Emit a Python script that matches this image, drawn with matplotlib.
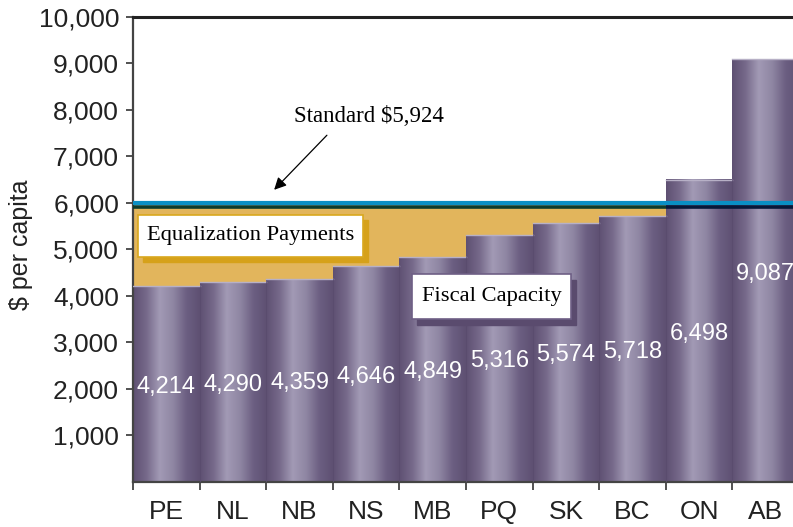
import numpy as np
import matplotlib.pyplot as plt
from matplotlib.colors import LinearSegmentedColormap
from matplotlib.patches import Rectangle

provinces = ['PE', 'NL', 'NB', 'NS', 'MB', 'PQ', 'SK', 'BC', 'ON', 'AB']
capacity = [4214, 4290, 4359, 4646, 4849, 5316, 5574, 5718, 6498, 9087]
standard = 5924
yticks = np.arange(1000, 10001, 1000)

sans = ['Liberation Sans Narrow', 'Liberation Sans', 'DejaVu Sans']
serif = ['Liberation Serif', 'DejaVu Serif']

fig = plt.figure(figsize=(7.93, 5.27), dpi=100)
ax = fig.add_axes([0.1677, 0.0854, 0.840, 0.8824])

x = np.arange(len(provinces))
vals = np.array(capacity)

# cylinder-like bars
bar_cmap = LinearSegmentedColormap.from_list(
    'cyl', ['#5e5072', '#76698a', '#a29ab5', '#8f86a3', '#6c5f82', '#5e5072'])
grad = np.linspace(0, 1, 256).reshape(1, -1)
for xi, v in zip(x, vals):
    ax.imshow(grad, cmap=bar_cmap, extent=(xi - 0.5, xi + 0.5, 0, v),
              aspect='auto', origin='lower', zorder=2)
    ax.plot([xi - 0.5, xi + 0.5], [v, v], color='#b7b0c6', lw=1, zorder=3)
    ax.plot([xi + 0.5, xi + 0.5], [0, v], color='#5a4c6e', lw=0.6, zorder=3)

# equalization gap up to the standard
gap = np.clip(standard - vals, 0, None)
ax.bar(x, gap, bottom=vals, width=1.0, color='#e2b55c', edgecolor='none', zorder=2)

# standard lines
n_below = int((vals < standard).sum())
ax.axhline(standard + 68, color='#0a8fc4', lw=3.0, zorder=5)
ax.hlines(standard - 18, -0.5, n_below - 0.5, color='#0c3b2c', lw=2.6, zorder=5)
ax.hlines(standard - 18, n_below - 0.5, len(x) - 0.5, color='#06183a', lw=2.6, zorder=5)

# value labels
for xi, v in zip(x, vals):
    ax.text(xi, v / 2 - 60, f'{v:,}', ha='center', va='center', color='white',
            fontsize=17, family=sans, zorder=6)

# annotation boxes
ax.add_patch(Rectangle((-0.35, 4730), 3.375, 900, color='#d6a11a', zorder=6))
ax.add_patch(Rectangle((-0.425, 4840), 3.375, 900, facecolor='white',
                       edgecolor='#d9a81e', lw=1.2, zorder=7))
ax.text(-0.425 + 3.375 / 2, 4840 + 450, 'Equalization Payments', ha='center', va='center',
        fontsize=16.2, family=serif, zorder=8)

ax.add_patch(Rectangle((3.765, 3370), 2.39, 970, color='#5a4b6e', zorder=6))
ax.add_patch(Rectangle((3.69, 3500), 2.39, 970, facecolor='white',
                       edgecolor='#6e5f85', lw=1.2, zorder=7))
ax.text(3.69 + 2.39 / 2, 3500 + 485, 'Fiscal Capacity', ha='center', va='center',
        fontsize=16.2, family=serif, zorder=8)

ax.annotate('', xy=(1.59, 6240), xytext=(2.44, 7500),
            arrowprops=dict(arrowstyle='-|>', color='black', lw=0.9, mutation_scale=18),
            zorder=8)
ax.text(3.04, 7850, f'Standard ${standard:,}', ha='center', va='center',
        fontsize=16.5, family=serif, zorder=8)

# axes styling
ax.set_xlim(-0.5, len(x) - 0.5)
ax.set_ylim(0, 10000)
ax.set_yticks(yticks)
ax.set_yticklabels([f'{t:,}' for t in yticks], family=sans[1:], fontsize=19, color='#222222')
ax.set_xticks(x)
ax.set_xticklabels(provinces, family=sans, fontsize=19, color='#222222')
ax.set_xticks(np.arange(-0.5, len(x), 1.0), minor=True)
ax.tick_params(axis='x', which='major', length=0, pad=13)
ax.tick_params(axis='x', which='minor', length=6, width=1.2, color='#333333')
ax.tick_params(axis='y', length=5, width=1.2, color='#333333', pad=5)
ax.set_ylabel('$ per capita', family=sans[1:], fontsize=18, color='#222222')
ax.yaxis.set_label_coords(-0.15, 0.51)

for side in ['left', 'bottom']:
    ax.spines[side].set_color('#444444')
    ax.spines[side].set_linewidth(1.6)
ax.spines['top'].set_color('#222222')
ax.spines['top'].set_linewidth(2.2)
ax.spines['right'].set_visible(False)

fig.savefig('out.png', dpi=100)
